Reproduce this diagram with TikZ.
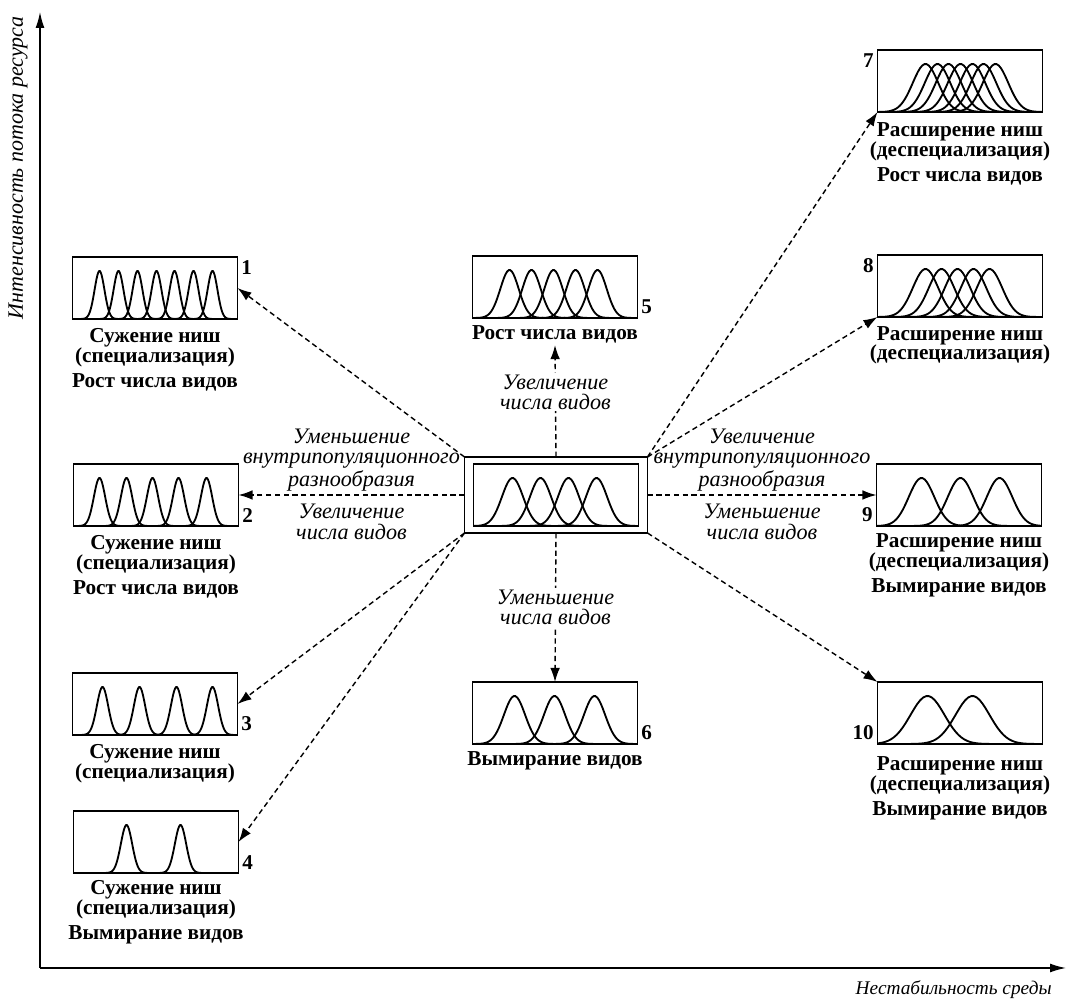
\documentclass[tikz,border=0pt]{standalone}
\usepackage{fontspec}
\setmainfont{Liberation Serif}
\usetikzlibrary{arrows.meta,positioning}

% bell curves inside a box: box, spread, peak offsets from the left edge
\newcommand\bells[3]{%
  \begin{scope}
    \clip (#1.south west) rectangle (#1.north east);
    \begin{scope}[shift={(#1.south west)}]
      \foreach \m in {#3}
        \draw[bell] plot[domain=\m-3*#2:\m+3*#2, samples=50]
          (\x, {-48*exp(-((\x-\m)/#2)*((\x-\m)/#2))});
    \end{scope}
  \end{scope}}

\begin{document}
\begin{tikzpicture}[x=0.02cm, y=-0.02cm,
    box/.style={draw, line width=1pt, minimum width=3.3cm, minimum height=1.24cm,
      inner sep=0pt, outer sep=0pt},
    bell/.style={line width=1.05pt},
    lab/.style={font=\fontsize{12.1}{11.3}\selectfont\bfseries, align=center, inner sep=1pt},
    num/.style={font=\fontsize{12}{12}\selectfont\bfseries, inner sep=2pt},
    note/.style={font=\fontsize{12.6}{11.6}\selectfont\itshape, align=center, inner sep=1pt},
    axlab/.style={font=\fontsize{11.5}{12}\selectfont\itshape, inner sep=0pt},
    link/.style={dash pattern=on 3pt off 2pt, line width=0.8pt, -{Latex[length=8pt,width=5.5pt]}},
    axis/.style={line width=0.8pt, -{Latex[length=9pt,width=5pt]}}]
  \useasboundingbox (0,0) rectangle (1066,999);

  % axes
  \coordinate (o) at (40,968);
  \coordinate (yt) at (40,12);
  \coordinate (xr) at (1066,968);
  \draw[axis] (o) -- (yt);
  \draw[axis] (o) -- (xr);
  \node[axlab, rotate=90, font=\fontsize{12.5}{12}\selectfont\itshape] (ylab) at (18,168) {Интенсивность потока ресурса};
  \node[axlab, anchor=east, font=\fontsize{11}{12}\selectfont\itshape] (xlab) at (1052,990) {Нестабильность среды};

  % boxes
  \node[box] (b1) at (155,288) {};
  \node[box] (b2) at (156,495) {};
  \node[box] (b3) at (155,704) {};
  \node[box] (b4) at (156,842) {};
  \node[box] (b5) at (555,287) {};
  \node[box] (b6) at (555,713) {};
  \node[box] (b7) at (960,81) {};
  \node[box] (b8) at (960,286) {};
  \node[box] (b9) at (959,495) {};
  \node[box] (b10) at (960,713) {};
  \node[box, minimum width=3.66cm, minimum height=1.52cm] (c) at (556,495) {};
  \node[box] (c0) at (556,495) {};

  \bells{b1}{7}{27,46,65,84,102,121,140}
  \bells{b2}{8}{26,53,79,105,133}
  \bells{b3}{8}{30,67,104,140}
  \bells{b4}{8}{53,107}
  \bells{b5}{13}{37,59,81,103,125}
  \bells{c0}{15}{39,67,95,123}
  \bells{b6}{15}{42,82,122}
  \bells{b7}{18}{48,60,71,83,95,106,118}
  \bells{b8}{18}{48,64,80,96,112}
  \bells{b9}{18}{45,84,123}
  \bells{b10}{24}{50,95}

  % captions
  \node[lab, below=4pt of b1] (t1) {Сужение ниш\\(специализация)\\[3pt]Рост числа видов};
  \node[lab, below=4pt of b2] (t2) {Сужение ниш\\(специализация)\\[3pt]Рост числа видов};
  \node[lab, below=4pt of b3] (t3) {Сужение ниш\\(специализация)};
  \node[lab, below=3pt of b4] (t4) {Сужение ниш\\(специализация)\\[3pt]Вымирание видов};
  \node[lab, below=3pt of b5] (t5) {Рост числа видов};
  \node[lab, below=3pt of b6] (t6) {Вымирание видов};
  \node[lab, below=5pt of b7] (t7) {Расширение ниш\\(деспециализация)\\[3pt]Рост числа видов};
  \node[lab, below=4pt of b8] (t8) {Расширение ниш\\(деспециализация)};
  \node[lab, below=3pt of b9] (t9) {Расширение ниш\\(деспециализация)\\[3pt]Вымирание видов};
  \node[lab, below=6pt of b10] (t10) {Расширение ниш\\(деспециализация)\\[3pt]Вымирание видов};

  % numbers
  \node[num, anchor=north west] (n1) at (b1.north east) {1};
  \node[num, anchor=south west] (n2) at (b2.south east) {2};
  \node[num, anchor=south west] (n3) at (b3.south east) {3};
  \node[num, anchor=south west] (n4) at (b4.south east) {4};
  \node[num, anchor=south west] (n5) at (b5.south east) {5};
  \node[num, anchor=south west] (n6) at (b6.south east) {6};
  \node[num, anchor=north east] (n7) at (b7.north west) {7};
  \node[num, anchor=north east] (n8) at (b8.north west) {8};
  \node[num, anchor=south east] (n9) at (b9.south west) {9};
  \node[num, anchor=south east] (n10) at (b10.south west) {10};

  % links
  \draw[link] (c.north) -- node[note, fill=white, pos=0.58] (u5) {Увеличение\\числа видов} (t5.south);
  \draw[link] (c.south) -- node[note, fill=white] (d6) {Уменьшение\\числа видов} (b6.north);
  \draw[link] (c.west) -- node[note, above=1pt] (l2a) {Уменьшение\\внутрипопуляционного\\разнообразия}
    node[note, below=4pt] (l2b) {Увеличение\\числа видов} (b2.east);
  \draw[link] (c.east) -- node[note, above=1pt] (r9a) {Увеличение\\внутрипопуляционного\\разнообразия}
    node[note, below=4pt] (r9b) {Уменьшение\\числа видов} (b9.west);
  \draw[link] (c.north west) -- (b1.east);
  \draw[link] (c.south west) -- (b3.east);
  \draw[link] (c.south west) -- (b4.east);
  \draw[link] (c.north east) -- (b7.south west);
  \draw[link] (c.north east) -- (b8.south west);
  \draw[link] (c.south east) -- (b10.north west);
\end{tikzpicture}
\end{document}
